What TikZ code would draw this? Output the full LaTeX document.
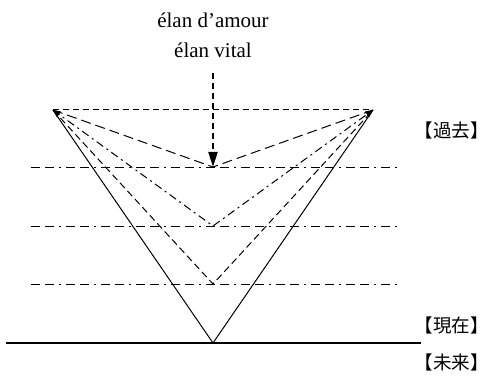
\documentclass[tikz,border=0pt]{standalone}
\usepackage{fontspec}
\setmainfont{Liberation Serif}
\newfontfamily\jpfont{Noto Sans CJK JP}
\usetikzlibrary{arrows.meta}
\begin{document}
\begin{tikzpicture}[x=1pt,y=1pt,
  vline/.style={line width=1pt},
  hdash/.style={line width=1pt, dash pattern=on 9pt off 5pt on 9pt off 5pt on 2pt off 5pt},
  topdash/.style={line width=1pt, dash pattern=on 6pt off 4pt},
  vdashA/.style={line width=1pt, dash pattern=on 10pt off 5pt},
  vdashB/.style={line width=1pt, dash pattern=on 8pt off 4pt on 2pt off 4pt},
  vdashC/.style={line width=1pt, dash pattern=on 7pt off 4pt},
  lbl/.style={font=\fontsize{21}{24}\selectfont, inner sep=0pt},
  jlbl/.style={font=\jpfont\fontsize{18.5}{20}\selectfont, inner sep=0pt, anchor=east}]
\useasboundingbox (0,0) rectangle (489,377);
\coordinate (L) at (53,267);
\coordinate (R) at (373,267);
\coordinate (O) at (213,34);
\coordinate (A1) at (213,210);
\coordinate (A2) at (213,151);
\coordinate (A3) at (213,93);
\coordinate (H1l) at (31,209); \coordinate (H1r) at (397,209);
\coordinate (H2l) at (31,150); \coordinate (H2r) at (397,150);
\coordinate (H3l) at (31,92);  \coordinate (H3r) at (397,92);
\coordinate (Bl) at (6,34); \coordinate (Br) at (421,34);
\node[lbl] (t1) at (213,357) {élan d’amour};
\node[lbl] (t2) at (213,327) {élan vital};
\coordinate (As) at (213,304);
\node[jlbl] (past) at (489,247) {【過去】};
\node[jlbl] (now) at (489,52) {【現在】};
\node[jlbl] (fut) at (489,15) {【未来】};
% horizontal lines
\draw[hdash] (H1l) -- (H1r);
\draw[hdash] (H2l) -- (H2r);
\draw[hdash] (H3l) -- (H3r);
\draw[line width=1.8pt] (Bl) -- (Br);
% top line
\draw[topdash] (L) -- (R);
% solid V
\draw[vline] (L) -- (O) -- (R);
% dashed V's
\draw[vdashA] (L) -- (A1) -- (R);
\draw[vdashB] (L) -- (A2) -- (R);
\draw[vdashC] (L) -- (A3) -- (R);
% tips
\fill (L) -- ++(8,-1.5) -- ++(-4,-6) -- cycle;
\fill (R) -- ++(-8,-1.5) -- ++(4,-6) -- cycle;
% arrow
\draw[line width=2pt, dash pattern=on 6pt off 4pt, -{Triangle[length=15pt,width=9pt]}] (As) -- (A1);
\end{tikzpicture}
\end{document}
